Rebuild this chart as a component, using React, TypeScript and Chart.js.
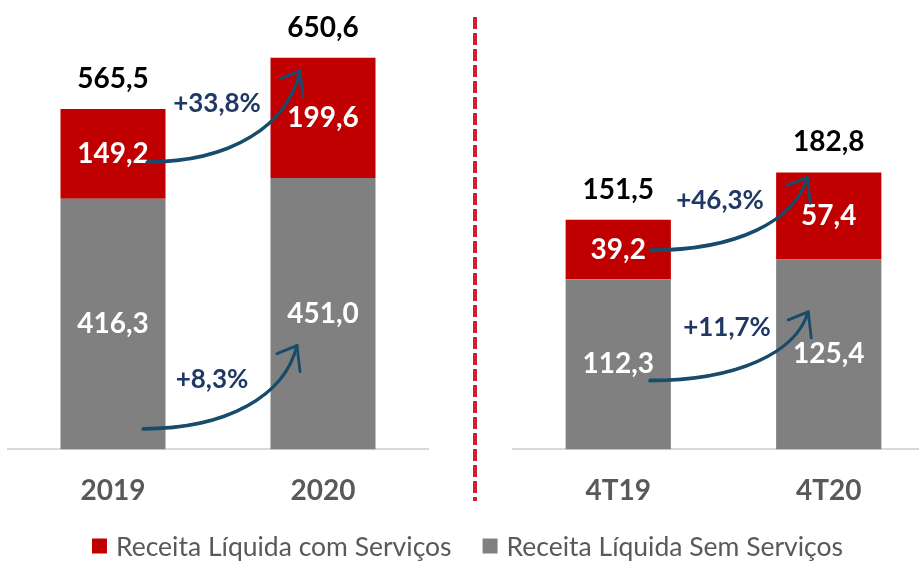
import React, { useEffect, useRef } from 'react';
import { Chart, registerables } from 'chart.js';

Chart.register(...registerables);

// ---------- data ----------
const annualLabels = ['2019', '2020'];
const quarterLabels = ['4T19', '4T20'];
const seriesSem = 'Receita Líquida Sem Serviços';
const seriesCom = 'Receita Líquida com Serviços';
const annualSemServicos = [416.3, 451.0];
const annualComServicos = [149.2, 199.6];
const annualTotals = [565.5, 650.6];
const annualGrowth = [8.3, 33.8]; // sem, com (%)
const quarterSemServicos = [112.3, 125.4];
const quarterComServicos = [39.2, 57.4];
const quarterTotals = [151.5, 182.8];
const quarterGrowth = [11.7, 46.3]; // sem, com (%)

// ---------- styles ----------
const RED = '#c00000';
const GRAY = '#808080';
const AXIS = '#d9d9d9';
const TICK = '#595959';
const NAVY = '#203864';
const ARROW = '#184b6c';
const SEP = '#d0202e';
const FONT = 'Lato, "Open Sans", sans-serif';

type Arrow = { s: [number, number]; e: [number, number]; t: [number, number] };

const annualArrows: Arrow[] = [
  { s: [30, 105], e: [-26, 32], t: [-6, -50] },
  { s: [34, 8.5], e: [-23, -47], t: [-1, -59] },
];
const quarterArrows: Arrow[] = [
  { s: [31.5, 16.5], e: [-20.5, -42.5], t: [3.5, -53] },
  { s: [32, 1], e: [-21.5, -38.5], t: [-3.5, -50] },
];

const fmt = (v: number) => v.toFixed(1).replace('.', ',');

function annotationPlugin(totals: number[], growth: number[], arrows: Arrow[]) {
  return {
    id: 'annotations',
    afterDatasetsDraw(chart: any) {
      const ctx = chart.ctx as CanvasRenderingContext2D;
      ctx.save();
      ctx.textAlign = 'center';
      ctx.textBaseline = 'middle';
      // segment labels
      chart.data.datasets.forEach((ds: any, i: number) => {
        const meta = chart.getDatasetMeta(i);
        meta.data.forEach((bar: any, j: number) => {
          ctx.font = `bold 28px ${FONT}`;
          ctx.fillStyle = '#ffffff';
          ctx.fillText(fmt(ds.data[j]), bar.x, (bar.y + bar.base) / 2);
        });
      });
      // totals
      const topMeta = chart.getDatasetMeta(chart.data.datasets.length - 1);
      topMeta.data.forEach((bar: any, j: number) => {
        ctx.font = `bold 28px ${FONT}`;
        ctx.fillStyle = '#000000';
        ctx.fillText(fmt(totals[j]), bar.x, bar.y - 30);
      });
      // growth arrows
      arrows.forEach((a, i) => {
        const meta = chart.getDatasetMeta(i);
        const b0 = meta.data[0];
        const b1 = meta.data[1];
        const sx = b0.x + a.s[0];
        const sy = (b0.y + b0.base) / 2 + a.s[1];
        const ex = b1.x + a.e[0];
        const ey = (b1.y + b1.base) / 2 + a.e[1];
        const dx = ex - sx;
        const dy = Math.abs(ey - sy);
        ctx.strokeStyle = ARROW;
        ctx.lineCap = 'round';
        ctx.lineJoin = 'round';
        const drawCurve = (ox: number, oy: number, w: number) => {
          ctx.lineWidth = w;
          ctx.beginPath();
          ctx.moveTo(sx + ox, sy + oy);
          ctx.bezierCurveTo(sx + 0.55 * dx + ox, sy + oy, ex - 0.08 * dx + ox, ey + 0.6 * dy + oy, ex, ey);
          ctx.stroke();
        };
        drawCurve(0, 0, 3.2);
        drawCurve(0, -1.5, 1.4);
        ctx.lineWidth = 2.8;
        ctx.beginPath();
        ctx.moveTo(ex - 20, ey + 8);
        ctx.lineTo(ex, ey);
        ctx.lineTo(ex + 3, ey + 26);
        ctx.stroke();
        // percentage label
        ctx.font = `bold 26px ${FONT}`;
        ctx.fillStyle = NAVY;
        ctx.fillText('+' + fmt(growth[i]) + '%', (b0.x + b1.x) / 2 + a.t[0], sy + a.t[1]);
      });
      ctx.restore();
    },
  };
}

const legendPlugin = {
  id: 'legendRow',
  afterDraw(chart: any) {
    const ctx = chart.ctx as CanvasRenderingContext2D;
    ctx.save();
    ctx.font = `26.5px ${FONT}`;
    ctx.textBaseline = 'middle';
    ctx.textAlign = 'left';
    const items = chart.data.datasets
      .map((ds: any) => ({ label: ds.label as string, color: ds.backgroundColor as string }))
      .reverse();
    const box = 15;
    const gap = 9;
    const itemGap = 31;
    const widths = items.map((it: any) => box + gap + ctx.measureText(it.label).width);
    const total = widths.reduce((a: number, b: number) => a + b, 0) + itemGap * (items.length - 1);
    let x = chart.width / 2 + 8 - total / 2;
    const y = chart.height - 15;
    items.forEach((it: any, k: number) => {
      ctx.fillStyle = it.color;
      ctx.fillRect(x, y - box / 2, box, box);
      ctx.fillStyle = TICK;
      ctx.fillText(it.label, x + box + gap, y + 1);
      x += widths[k] + itemGap;
    });
    ctx.restore();
  },
};

const separatorPlugin = {
  id: 'separator',
  afterDraw(chart: any) {
    const ctx = chart.ctx as CanvasRenderingContext2D;
    const x = chart.chartArea.left - 38;
    ctx.save();
    ctx.strokeStyle = SEP;
    ctx.lineWidth = 4;
    ctx.setLineDash([12, 4]);
    ctx.beginPath();
    ctx.moveTo(x, 17);
    ctx.lineTo(x, 501);
    ctx.stroke();
    ctx.restore();
  },
};

function makeConfig(
  labels: string[],
  sem: number[],
  com: number[],
  yMax: number,
  padding: { left: number; right: number; top: number; bottom: number },
  plugins: any[]
): any {
  return {
    type: 'bar',
    data: {
      labels,
      datasets: [
        { label: seriesSem, data: sem, backgroundColor: GRAY, barPercentage: 0.5, categoryPercentage: 1 },
        { label: seriesCom, data: com, backgroundColor: RED, barPercentage: 0.5, categoryPercentage: 1 },
      ],
    },
    options: {
      animation: false,
      responsive: false,
      devicePixelRatio: 1,
      layout: { padding },
      plugins: { legend: { display: false }, tooltip: { enabled: false } },
      scales: {
        x: {
          stacked: true,
          grid: { display: false, drawTicks: false },
          border: { display: true, color: AXIS, width: 2 },
          ticks: { color: TICK, font: { family: FONT, size: 28, weight: 'bold' }, padding: 25 },
        },
        y: { stacked: true, display: false, min: 0, max: yMax },
      },
    },
    plugins,
  };
}

export default function App() {
  const leftRef = useRef<HTMLCanvasElement>(null);
  const rightRef = useRef<HTMLCanvasElement>(null);

  useEffect(() => {
    document.body.style.margin = '0';
    const left = new Chart(
      leftRef.current!,
      makeConfig(annualLabels, annualSemServicos, annualComServicos, 730,
        { left: 8, right: 491, top: 10, bottom: 28 },
        [annotationPlugin(annualTotals, annualGrowth, annualArrows), legendPlugin])
    );
    const right = new Chart(
      rightRef.current!,
      makeConfig(quarterLabels, quarterSemServicos, quarterComServicos, 290,
        { left: 53, right: 1, top: 10, bottom: 28 },
        [annotationPlugin(quarterTotals, quarterGrowth, quarterArrows), separatorPlugin])
    );
    return () => {
      left.destroy();
      right.destroy();
    };
  }, []);

  return (
    <div style={{ position: 'relative', width: 919, height: 561, overflow: 'hidden', background: '#fff' }}>
      <canvas ref={leftRef} width={919} height={561} style={{ position: 'absolute', left: 0, top: 0 }} />
      <canvas ref={rightRef} width={475} height={561} style={{ position: 'absolute', left: 460, top: 0 }} />
    </div>
  );
}
